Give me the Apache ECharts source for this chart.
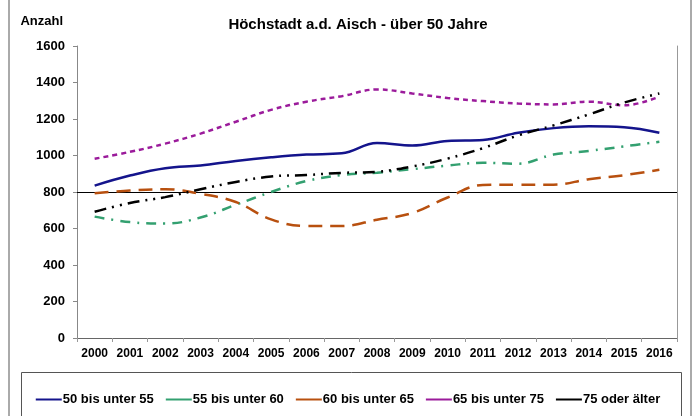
<!DOCTYPE html>
<html>
<head>
<meta charset="utf-8">
<script src="https://cdn.jsdelivr.net/npm/echarts@6/dist/echarts.min.js"></script>
<style>
html,body{margin:0;padding:0;background:#fff;}
#chart{width:696px;height:416px;}
</style>
</head>
<body>
<div id="chart"></div>
<script>
var years = ['2000','2001','2002','2003','2004','2005','2006','2007','2008','2009','2010','2011','2012','2013','2014','2015','2016'];
var s50bis55 = [835, 890, 930, 945, 970, 990, 1005, 1012, 1068, 1055, 1080, 1085, 1125, 1150, 1160, 1155, 1125];
var s55bis60 = [665, 635, 627, 660, 730, 800, 860, 893, 906, 925, 945, 960, 955, 1005, 1025, 1050, 1075];
var s60bis65 = [793, 808, 815, 790, 745, 650, 614, 614, 648, 685, 770, 838, 840, 840, 870, 892, 922];
var s65bis75 = [982, 1020, 1065, 1120, 1185, 1250, 1295, 1325, 1362, 1340, 1315, 1298, 1285, 1280, 1295, 1275, 1322];
var s75plus  = [692, 740, 772, 815, 855, 885, 893, 905, 911, 940, 983, 1040, 1110, 1165, 1225, 1290, 1340];
var seriesNames = ['50 bis unter 55','55 bis unter 60','60 bis unter 65','65 bis unter 75','75 oder älter'];
var referenceValue = 800;

var font = 'Liberation Sans, Arial, sans-serif';
var chart = echarts.init(document.getElementById('chart'), null, {renderer:'canvas'});

function mk(name, data, color, type, extra) {
  var s = {
    name: name, type: 'line', data: data, smooth: 0.4, symbol: 'none',
    lineStyle: {color: color, width: 2.5, type: type},
    itemStyle: {color: color},
    z: 3
  };
  if (extra) for (var k in extra) s[k] = extra[k];
  return s;
}

var option = {
  animation: false,
  backgroundColor: '#fff',
  textStyle: {fontFamily: font},
  title: {
    text: 'Höchstadt a.d. Aisch - über 50 Jahre',
    left: 353, textAlign: 'center', top: 12,
    textStyle: {fontSize: 15, fontWeight: 'bold', color: '#000', fontFamily: font}
  },
  grid: {left: 77, right: 19, top: 46, bottom: 78, containLabel: false},
  legend: {
    data: seriesNames,
    left: 'center', top: 388,
    itemWidth: 26, itemHeight: 10, itemGap: 12,
    icon: 'path://M0,4 L26,4 L26,6 L0,6 Z',
    textStyle: {fontSize: 13, fontWeight: 'bold', color: '#000', fontFamily: font, padding: [0,0,0,-4]}
  },
  xAxis: {
    type: 'category', data: years, boundaryGap: true,
    axisLine: {show: true, lineStyle: {color: '#666', width: 1}},
    axisTick: {show: true, length: 4, interval: 0, lineStyle: {color: '#999'}},
    axisLabel: {interval: 0, fontSize: 12, fontWeight: 'bold', color: '#000', margin: 10, fontFamily: font},
    splitLine: {show: false}
  },
  yAxis: [{
    type: 'value', min: 0, max: 1600, interval: 200,
    name: 'Anzahl', nameLocation: 'end', nameGap: 18,
    nameTextStyle: {fontSize: 13, fontWeight: 'bold', color: '#000', align: 'right', padding: [0, 14, 0, 0], fontFamily: font},
    axisLine: {show: true, lineStyle: {color: '#888', width: 1}},
    axisTick: {show: true, length: 4, lineStyle: {color: '#888'}},
    axisLabel: {fontSize: 13, fontWeight: 'bold', color: '#000', margin: 12, fontFamily: font,
      formatter: function (v) { return String(v); }},
    splitLine: {show: false}
  }, {
    type: 'value', min: 0, max: 1600, interval: 200, position: 'right',
    axisLine: {show: true, lineStyle: {color: '#999', width: 1}},
    axisTick: {show: false}, axisLabel: {show: false}, splitLine: {show: false}
  }],
  graphic: [
    {type: 'rect', shape: {x: 9, y: -5, width: 682, height: 430}, style: {fill: 'none', stroke: '#aaa', lineWidth: 2}, silent: true, z: -1},
    {type: 'rect', shape: {x: 21.5, y: 372.5, width: 660, height: 60}, style: {fill: 'none', stroke: '#555', lineWidth: 1}, silent: true}
  ],
  series: [
    mk(seriesNames[0], s50bis55, '#14148c', 'solid', {
      markLine: {silent: true, symbol: 'none', label: {show: false},
        lineStyle: {color: '#000', width: 1, type: 'solid'}, data: [{yAxis: referenceValue}], z: 1}
    }),
    mk(seriesNames[1], s55bis60, '#33a070', [10, 7, 2, 7]),
    mk(seriesNames[2], s60bis65, '#b8500f', [14, 8]),
    mk(seriesNames[3], s65bis75, '#9b1b9b', [5, 4]),
    mk(seriesNames[4], s75plus, '#000000', [12, 6, 2, 6, 2, 6])
  ]
};
chart.setOption(option);
</script>
</body>
</html>
